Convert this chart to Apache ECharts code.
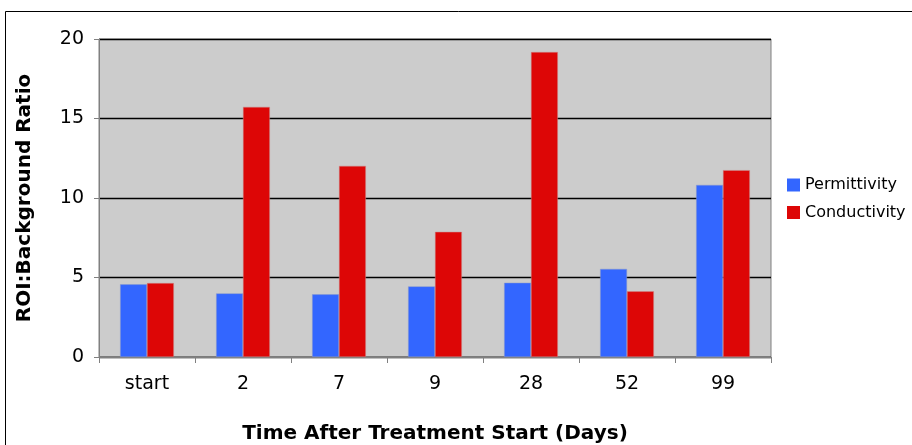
<!DOCTYPE html>
<html><head><meta charset="utf-8">
<script src="https://cdn.jsdelivr.net/npm/echarts@6/dist/echarts.min.js"></script>
<style>html,body{margin:0;padding:0;background:#fff}#c{width:912px;height:445px}</style>
</head><body><div id="c"></div>
<script>
const categories = ['start', '2', '7', '9', '28', '52', '99'];
const permittivity = [4.57, 4.0, 3.94, 4.44, 4.67, 5.54, 10.82];
const conductivity = [4.65, 15.73, 12.02, 7.87, 19.18, 4.13, 11.75];
const seriesNames = ['Permittivity', 'Conductivity'];
const xTitle = 'Time After Treatment Start (Days)';
const yTitle = 'ROI:Background Ratio';

const chart = echarts.init(document.getElementById('c'), null, {renderer: 'canvas'});
const font = 'DejaVu Sans, Verdana, sans-serif';
chart.setOption({
  animation: false,
  backgroundColor: '#fff',
  graphic: [
    {type: 'polyline', shape: {points: [[5.5, 445], [5.5, 11.5], [912, 11.5]]}, style: {stroke: '#000', lineWidth: 1, fill: null}, z: 0},
    {type: 'text', x: 435, y: 434, style: {text: xTitle, font: 'bold 20px ' + font, fill: '#000', align: 'center', verticalAlign: 'middle'}},
    {type: 'text', x: 25, y: 198, rotation: Math.PI / 2, style: {text: yTitle, font: 'bold 20px ' + font, fill: '#000', align: 'center', verticalAlign: 'middle'}}
  ],
  legend: {
    orient: 'vertical', left: 782, top: 172,
    itemWidth: 13, itemHeight: 13, itemGap: 11.5,
    icon: 'rect',
    itemStyle: {borderWidth: 0},
    textStyle: {fontFamily: font, fontSize: 16, color: '#000', padding: [0, 0, 0, 0]},
    data: seriesNames
  },
  grid: {left: 99, top: 39, width: 672, height: 318, show: true, backgroundColor: '#cccccc', borderColor: '#808080', borderWidth: 1},
  xAxis: {
    type: 'category', data: categories,
    axisLine: {show: true, lineStyle: {color: '#808080', width: 1}},
    axisTick: {show: true, length: 6, lineStyle: {color: '#808080'}},
    axisLabel: {fontFamily: font, fontSize: 19, color: '#000', margin: 18}
  },
  yAxis: {
    type: 'value', min: 0, max: 20, interval: 5,
    axisLine: {show: true, lineStyle: {color: '#808080'}},
    axisTick: {show: true, length: 5, lineStyle: {color: '#808080'}},
    axisLabel: {fontFamily: font, fontSize: 19, color: '#000', margin: 15},
    splitLine: {show: true, lineStyle: {color: '#000', width: 1.3}}
  },
  series: [
    {name: seriesNames[0], type: 'bar', data: permittivity, barGap: '0%', barCategoryGap: '44%', itemStyle: {color: '#3366ff', borderColor: '#8899cc', borderWidth: 0.5}},
    {name: seriesNames[1], type: 'bar', data: conductivity, itemStyle: {color: '#dd0606', borderColor: '#cc8888', borderWidth: 0.5}}
  ]
});
</script></body></html>
